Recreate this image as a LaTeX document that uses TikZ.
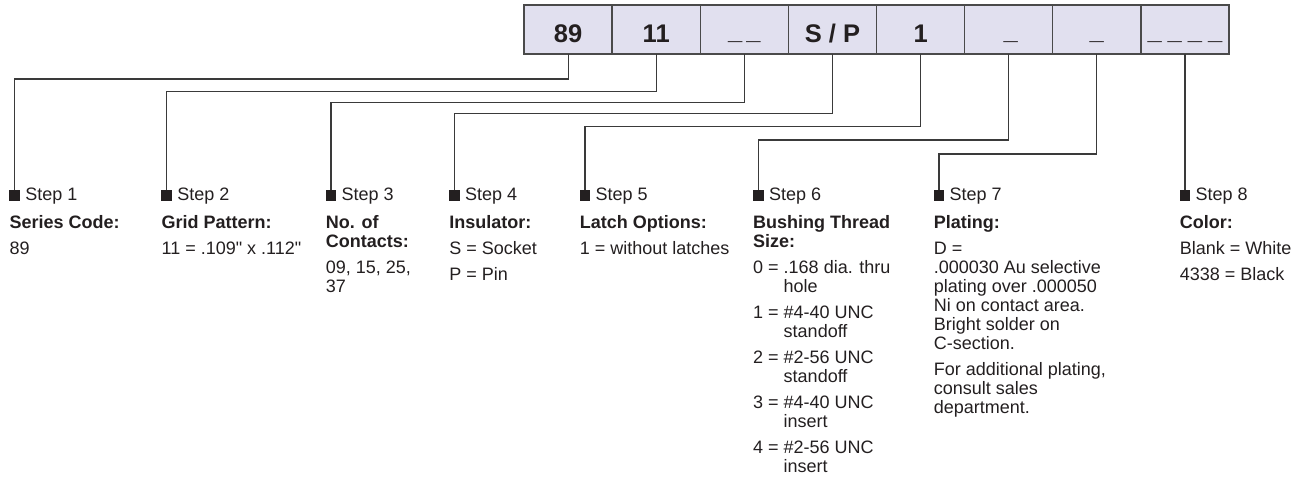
\documentclass[tikz,border=0pt]{standalone}
\usepackage{fontspec}
\setmainfont{Liberation Sans}
\newfontfamily\plainquotes{Liberation Sans}
\definecolor{ink}{HTML}{231F20}
\definecolor{cellfill}{HTML}{E1E0EF}
\definecolor{cellline}{HTML}{4A4A4A}
\definecolor{wire}{HTML}{3A3A3A}
\newcommand\usc{\raisebox{3pt}{\_}}
\newcommand\topstrut{\rule{0pt}{14pt}}
\begin{document}
\begin{tikzpicture}[x=1pt,y=-1pt,
  cell/.style={draw=cellline, line width=1.3pt, fill=cellfill, minimum width=88.125pt, minimum height=49pt, inner sep=0pt, outer sep=0pt},
  celltxt/.style={anchor=base, inner sep=0pt, text=ink, font=\fontsize{25.5}{28}\selectfont\bfseries},
  marker/.style={fill=ink, minimum size=10.7pt, inner sep=0pt, outer sep=0pt, anchor=south},
  steptxt/.style={anchor=base west, inner sep=0pt, text=ink, font=\fontsize{18}{19}\selectfont},
  desc/.style={anchor=north west, inner sep=0pt, text=ink, align=left, font=\fontsize{18}{19}\selectfont},
  wireline/.style={draw=wire, line width=1.2pt},
]
\useasboundingbox (0,0) rectangle (1309,477);

% code cells
\node[cell] (c1) at (568.1,29.5) {};
\node[cell] (c2) at (656.2,29.5) {};
\node[cell] (c3) at (744.3,29.5) {};
\node[cell] (c4) at (832.4,29.5) {};
\node[cell] (c5) at (920.6,29.5) {};
\node[cell] (c6) at (1008.7,29.5) {};
\node[cell] (c7) at (1096.8,29.5) {};
\node[cell] (c8) at (1184.9,29.5) {};
\coordinate (tb) at (0,42.7);
\node[celltxt] (t1) at (c1 |- tb) {89};
\node[celltxt] (t2) at (c2 |- tb) {11};
\node[celltxt] (t3) at (c3 |- tb) {\usc\kern4pt\usc};
\node[celltxt] (t4) at (c4 |- tb) {S / P};
\node[celltxt] (t5) at (c5 |- tb) {1};
\node[celltxt] (t6) at ([xshift=2pt]c6 |- tb) {\usc};
\node[celltxt] (t7) at (c7 |- tb) {\usc};
\node[celltxt] (t8) at (c8 |- tb) {\usc\kern6pt\usc\kern6pt\usc\kern6pt\usc};

% markers
\node[marker] (m1) at (14.7,200.5) {};
\node[marker] (m2) at (166.7,200.5) {};
\node[marker] (m3) at (331,200.5) {};
\node[marker] (m4) at (454.5,200.5) {};
\node[marker] (m5) at (585,200.5) {};
\node[marker] (m6) at (758.5,200.5) {};
\node[marker] (m7) at (939,200.5) {};
\node[marker] (m8) at (1184.9,200.5) {};

% wires
\coordinate (h1) at (0,79);
\coordinate (h2) at (0,91.7);
\coordinate (h3) at (0,102.3);
\coordinate (h4) at (0,113.3);
\coordinate (h5) at (0,126.7);
\coordinate (h6) at (0,140);
\coordinate (h7) at (0,154);
\draw[wireline] (c1.south) -- (c1.south |- h1) -| (m1.north);
\draw[wireline] (c2.south) -- (c2.south |- h2) -| (m2.north);
\draw[wireline] (c3.south) -- (c3.south |- h3) -| (m3.north);
\draw[wireline] (c4.south) -- (c4.south |- h4) -| (m4.north);
\draw[wireline] (c5.south) -- (c5.south |- h5) -| (m5.north);
\draw[wireline] (c6.south) -- (c6.south |- h6) -| (m6.north);
\draw[wireline] (c7.south) -- (c7.south |- h7) -| (m7.north);
\draw[wireline] (c8.south) -- (m8.north);

% step labels
\node[steptxt] (s1) at (25.2,200.5) {Step 1};
\node[steptxt] (s2) at (177.2,200.5) {Step 2};
\node[steptxt] (s3) at (341.5,200.5) {Step 3};
\node[steptxt] (s4) at (465,200.5) {Step 4};
\node[steptxt] (s5) at (595.5,200.5) {Step 5};
\node[steptxt] (s6) at (769,200.5) {Step 6};
\node[steptxt] (s7) at (949.5,200.5) {Step 7};
\node[steptxt] (s8) at (1195.4,200.5) {Step 8};

% descriptions (first baseline at y = 228)
\node[desc] (d1) at (9.4,214) {\topstrut\textbf{Series Code:}\\[7pt]89};
\node[desc] (d2) at (161.4,214) {\topstrut\textbf{Grid Pattern:}\\[7pt]{\plainquotes 11 = .109" x .112"}};
\node[desc] (d3) at (325.7,214) {\topstrut\textbf{No. of}\\\textbf{Contacts:}\\[7pt]09, 15, 25,\\37};
\node[desc] (d4) at (449.2,214) {\topstrut\textbf{Insulator:}\\[7pt]S = Socket\\[7pt]P = Pin};
\node[desc] (d5) at (579.7,214) {\topstrut\textbf{Latch Options:}\\[7pt]1 = without latches};
\node[desc] (d6) at (753,214) {\topstrut\textbf{Bushing Thread}\\\textbf{Size:}\\[7pt]
0 = .168 dia. thru\\\phantom{0 = }hole\\[7pt]
1 = \#4-40 UNC\\\phantom{1 = }standoff\\[7pt]
2 = \#2-56 UNC\\\phantom{2 = }standoff\\[7pt]
3 = \#4-40 UNC\\\phantom{3 = }insert\\[7pt]
4 = \#2-56 UNC\\\phantom{4 = }insert};
\node[desc] (d7) at (933.7,214) {\topstrut\textbf{Plating:}\\[7pt]D =\\.000030 Au selective\\plating over .000050\\Ni on contact area.\\Bright solder on\\C-section.\\[7pt]For additional plating,\\consult sales\\department.};
\node[desc] (d8) at (1179.6,214) {\topstrut\textbf{Color:}\\[7pt]Blank = White\\[7pt]4338 = Black};
\end{tikzpicture}
\end{document}
